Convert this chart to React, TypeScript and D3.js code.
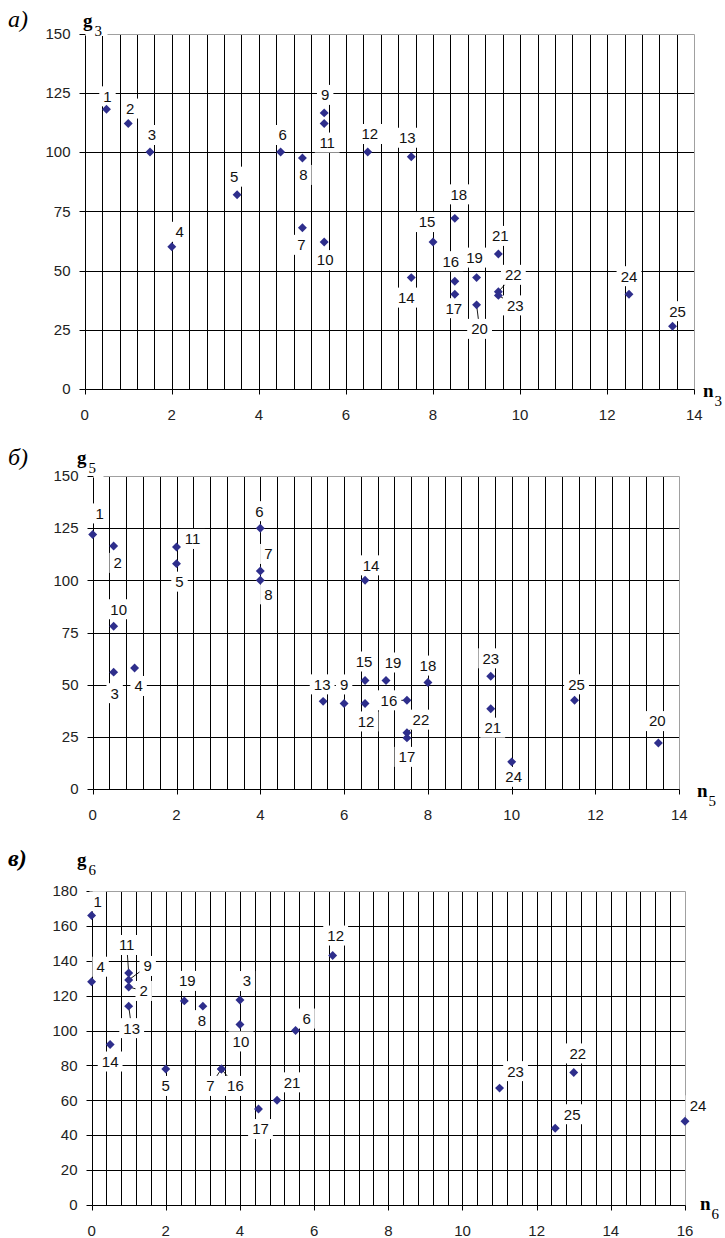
import React from 'react';
import * as d3 from 'd3';

// ---- data: point numbers and their coordinates for each of the three plots ----
const labelsA = ['1', '2', '3', '4', '5', '6', '7', '8', '9', '10', '11', '12', '13', '14', '15', '16', '17', '18', '19', '20', '21', '22', '23', '24', '25'];
const nA = [0.5, 1, 1.5, 2, 3.5, 4.5, 5, 5, 5.5, 5.5, 5.5, 6.5, 7.5, 7.5, 8, 8.5, 8.5, 8.5, 9, 9, 9.5, 9.5, 9.5, 12.5, 13.5];
const gA = [118, 112, 100, 60, 82, 100, 68, 97.5, 116.5, 62, 112, 100, 98, 47, 62, 45.5, 40, 72, 47, 35.5, 57, 41, 39.5, 40, 26.5];

const labelsB = ['1', '2', '3', '4', '5', '6', '7', '8', '9', '10', '11', '12', '13', '14', '15', '16', '17', '18', '19', '20', '21', '22', '23', '24', '25'];
const nB = [0, 0.5, 0.5, 1, 2, 4, 4, 4, 6, 0.5, 2, 6.5, 5.5, 6.5, 6.5, 7.5, 7.5, 8, 7, 13.5, 9.5, 7.5, 9.5, 10, 11.5];
const gB = [122, 116.5, 56, 58, 108, 125, 104.5, 100, 41, 78, 116, 41, 42, 100, 52, 42.5, 24.5, 51, 52, 22, 38.5, 27, 54, 13, 42.5];

const labelsC = ['1', '2', '3', '4', '5', '6', '7', '8', '9', '10', '11', '12', '13', '14', '16', '17', '19', '21', '22', '23', '24', '25'];
const nC = [0, 1, 4, 0, 2, 5.5, 3.5, 3, 1, 4, 1, 6.5, 1, 0.5, 3.5, 4.5, 2.5, 5, 13, 11, 16, 12.5];
const gC = [166, 125, 117.5, 128, 78, 100, 78, 114, 129, 103.5, 133, 143, 114, 92, 78, 55, 117, 60, 76, 67, 48, 44];

// ---- layout: label offsets from their point (px), and whether a leader line is drawn ----
type Off = [number, number, boolean];
const offA: Off[] = [
  [1, -13, false], [2, -15, false], [2, -17, false], [8, -15, false], [-3, -18, false],
  [2, -17, false], [-1, 17, false], [1, 17, false], [1, -18, false], [1, 18, false],
  [3, 19, false], [2, -18, false], [-4, -19, false], [-5, 20, false], [-6, -20, false],
  [-4, -20, false], [-1, 14, false], [4, -24, false], [-2, -20, false], [3, 24, true],
  [2, -18, false], [15, -17, true], [17, 10, true], [0, -18, false], [5, -15, false],
];
const offB: Off[] = [
  [7, -21, false], [4, 17, false], [1, 21, false], [4, 18, false], [3, 18, false],
  [-1, -17, false], [8, -17, false], [8, 14, false], [0, -19, false], [5, -17, false],
  [16, -8, false], [1, 18, false], [-1, -17, false], [6, -15, false], [-1, -19, false],
  [-18, 0, true], [0, 19, false], [0, -17, false], [7, -18, false], [-1, -22, false],
  [2, 19, false], [14, -13, true], [0, -18, false], [2, 15, false], [2, -16, false],
];
const offC: Off[] = [
  [6, -14, false], [15, 4, true], [7, -19, false], [9, -15, false], [0, 17, false],
  [11, -12, false], [-11, 17, true], [-1, 14, false], [19, -14, true], [1, 17, false],
  [-2, -28, true], [3, -20, false], [3, 22, true], [0, 17, false], [14, 17, true],
  [2, 20, false], [3, -20, false], [15, -18, false], [4, -19, false], [16, -17, false],
  [13, -16, false], [17, -14, false],
];

const sans = '"Liberation Sans", Arial, sans-serif';
const serif = '"Liberation Serif", "Times New Roman", serif';
const MARK = '#2e2e8c';

interface Cfg {
  labels: string[]; xs: number[]; ys: number[]; offs: Off[];
  xMax: number; yMax: number; yStep: number;
  left: number; right: number; top: number; bottom: number;
  letter: string; letterBold: boolean; letterPos: [number, number];
  gSub: string; gPos: [number, number]; gBox: [number, number, number, number] | null;
  nPos: [number, number];
}

const cfgs: Cfg[] = [
  {
    labels: labelsA, xs: nA, ys: gA, offs: offA, xMax: 14, yMax: 150, yStep: 25,
    left: 84.7, right: 694.3, top: 33.5, bottom: 389,
    letter: 'а)', letterBold: false, letterPos: [8, 27],
    gSub: '3', gPos: [83, 27], gBox: [85.5, 8, 22, 28], nPos: [703, 397],
  },
  {
    labels: labelsB, xs: nB, ys: gB, offs: offB, xMax: 14, yMax: 150, yStep: 25,
    left: 92.7, right: 679.3, top: 476, bottom: 789,
    letter: 'б)', letterBold: false, letterPos: [8, 465],
    gSub: '5', gPos: [77, 464], gBox: [93.5, 450, 10, 28], nPos: [697, 797],
  },
  {
    labels: labelsC, xs: nC, ys: gC, offs: offC, xMax: 16, yMax: 180, yStep: 20,
    left: 91.6, right: 685, top: 891, bottom: 1205,
    letter: 'в)', letterBold: true, letterPos: [8, 866],
    gSub: '6', gPos: [77, 866], gBox: null, nPos: [700, 1210],
  },
];

const crisp = (v: number) => Math.round(v) + 0.5;

function Panel({ c }: { c: Cfg }) {
  const x = d3.scaleLinear().domain([0, c.xMax]).range([c.left, c.right]);
  const y = d3.scaleLinear().domain([0, c.yMax]).range([c.bottom, c.top]);
  const nGrid = Math.round(c.xMax / 0.4);
  const gridX = d3.range(1, nGrid).map((i) => i * 0.4);
  const gridY = d3.range(c.yStep, c.yMax, c.yStep);
  const yTicks = d3.range(0, c.yMax + 1, c.yStep);
  const xTicks = d3.range(0, c.xMax + 1, 2);
  const x0 = crisp(x(0)), x1 = crisp(x(c.xMax)), y0 = crisp(y(0)), y1 = crisp(y(c.yMax));
  const diamond = d3.symbol(d3.symbolSquare, 40)() || '';

  return (
    <g>
      {gridX.map((v, i) => (
        <line key={'gx' + i} x1={crisp(x(v))} x2={crisp(x(v))} y1={y1} y2={y0} stroke="#000" />
      ))}
      {gridY.map((v, i) => (
        <line key={'gy' + i} x1={x0} x2={x1} y1={crisp(y(v))} y2={crisp(y(v))} stroke="#000" />
      ))}
      <line x1={x0} x2={x1} y1={y1} y2={y1} stroke="#a0a0a0" />
      <line x1={x1} x2={x1} y1={y1} y2={y0} stroke="#a0a0a0" />
      <line x1={x0} x2={x0} y1={y1} y2={y0} stroke="#000" />
      <line x1={x0} x2={x1} y1={y0} y2={y0} stroke="#000" />
      {yTicks.map((v) => (
        <g key={'yt' + v}>
          <line x1={x0 - 6} x2={x0} y1={crisp(y(v))} y2={crisp(y(v))} stroke="#000" />
          <text x={x0 - 15} y={y(v)} dy="0.35em" textAnchor="end" fontFamily={sans} fontSize={15} fill="#222">{v}</text>
        </g>
      ))}
      {xTicks.map((v) => (
        <g key={'xt' + v}>
          <line x1={crisp(x(v))} x2={crisp(x(v))} y1={y0} y2={y0 + 5} stroke="#000" />
          <text x={x(v)} y={y0 + 30} textAnchor="middle" fontFamily={sans} fontSize={15} fill="#222">{v}</text>
        </g>
      ))}
      {c.labels.map((l, i) => {
        const [dx, dy, lead] = c.offs[i];
        const px = x(c.xs[i]), py = y(c.ys[i]);
        return lead ? <line key={'ld' + i} x1={px} y1={py} x2={px + dx} y2={py + dy} stroke="#000" strokeWidth={0.9} /> : null;
      })}
      {c.labels.map((l, i) => {
        const [dx, dy] = c.offs[i];
        const cx = x(c.xs[i]) + dx, cy = y(c.ys[i]) + dy;
        const w = l.length * 8.4 + 8;
        return (
          <g key={'lb' + i}>
            <rect x={cx - w / 2} y={cy - 10} width={w} height={20} fill="#fff" />
            <text x={cx} y={cy} dy="0.36em" textAnchor="middle" fontFamily={sans} fontSize={15} fill="#111">{l}</text>
          </g>
        );
      })}
      {c.labels.map((l, i) => (
        <path key={'pt' + i} d={diamond} fill={MARK}
          transform={`translate(${x(c.xs[i])},${y(c.ys[i])}) rotate(45)`} />
      ))}
      {c.gBox && <rect x={c.gBox[0]} y={c.gBox[1]} width={c.gBox[2]} height={c.gBox[3]} fill="#fff" />}
      <text x={c.letterPos[0]} y={c.letterPos[1]} fontFamily={serif} fontStyle="italic"
        fontWeight={c.letterBold ? 'bold' : 'normal'} fontSize={24} fill="#000">{c.letter}</text>
      <text x={c.gPos[0]} y={c.gPos[1]} fontFamily={serif} fill="#000">
        <tspan fontWeight="bold" fontSize={19}>g</tspan>
        <tspan fontSize={15} dy={9} dx={2}>{c.gSub}</tspan>
      </text>
      <text x={c.nPos[0]} y={c.nPos[1]} fontFamily={serif} fill="#000">
        <tspan fontWeight="bold" fontSize={19}>n</tspan>
        <tspan fontSize={15} dy={9} dx={1}>{c.gSub}</tspan>
      </text>
    </g>
  );
}

export default function App() {
  return (
    <div style={{ position: 'absolute', left: 0, top: 0 }}>
      <svg width={725} height={1238} style={{ display: 'block', background: '#fff' }}>
        {cfgs.map((c, i) => <Panel key={i} c={c} />)}
      </svg>
    </div>
  );
}
